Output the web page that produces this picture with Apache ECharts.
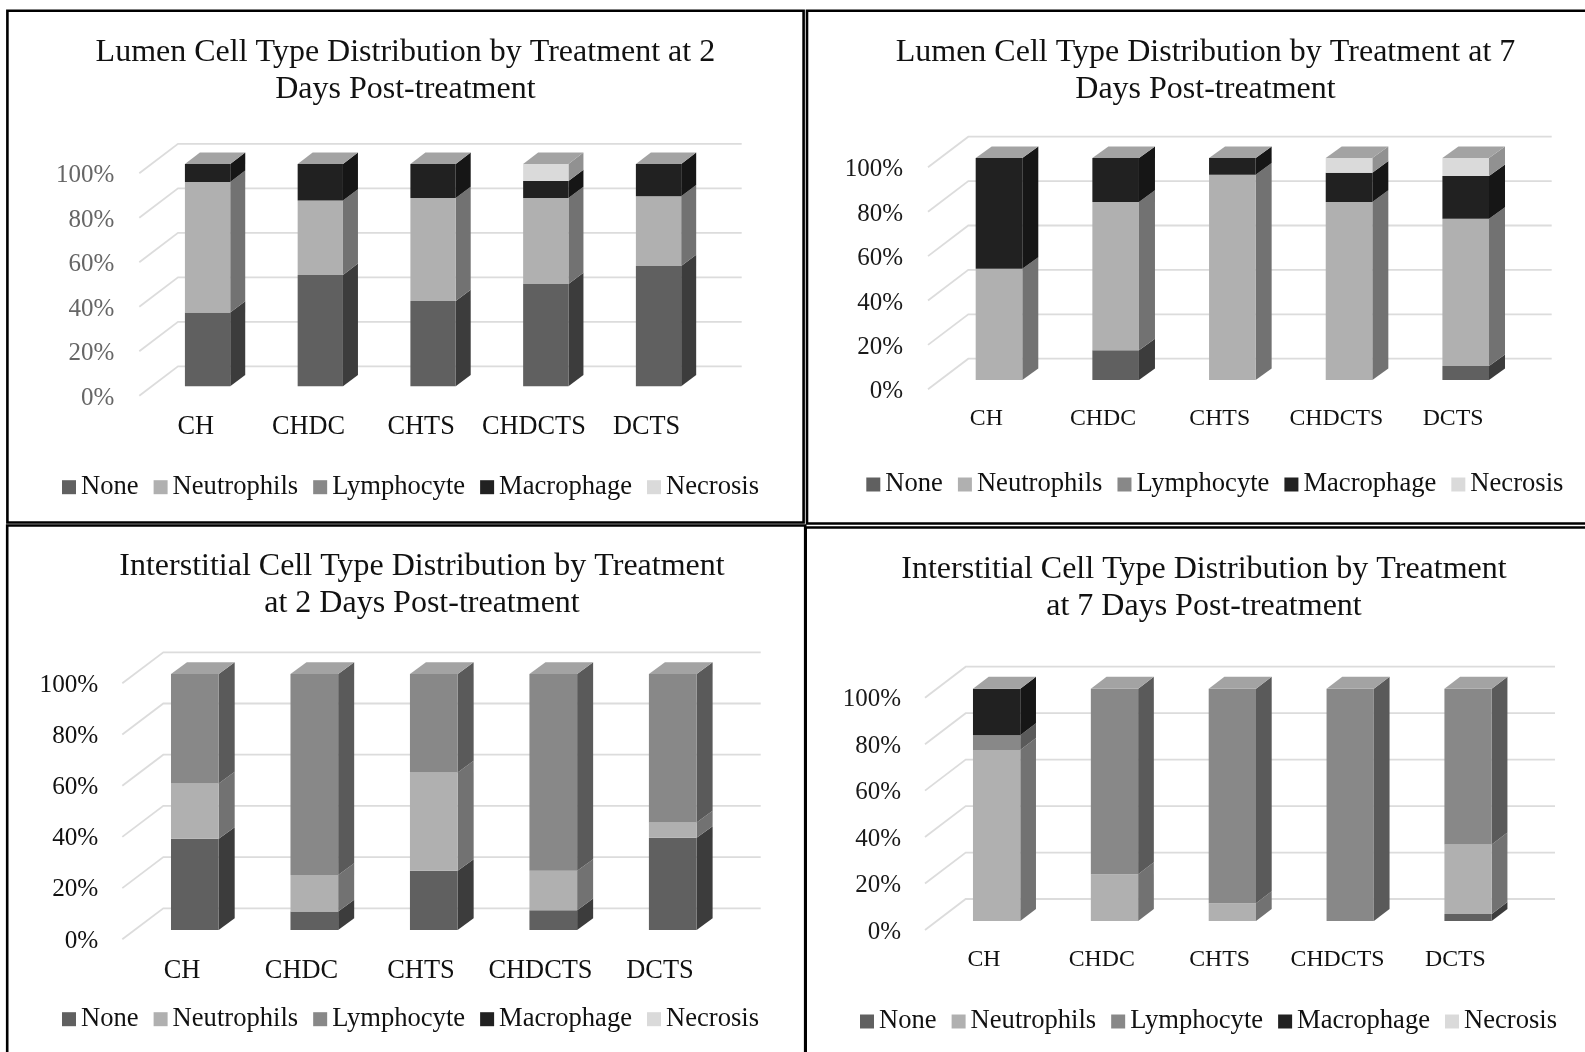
<!DOCTYPE html>
<html>
<head>
<meta charset="utf-8">
<style>html,body{margin:0;padding:0;background:#fff}#c{width:1585px;height:1052px}</style>
<script src="https://cdn.jsdelivr.net/npm/echarts@6/dist/echarts.min.js"></script>
</head>
<body>
<div id="c"></div>
<script>
// ---------- data ----------
const categories = ['CH', 'CHDC', 'CHTS', 'CHDCTS', 'DCTS'];
const seriesNames = ['None', 'Neutrophils', 'Lymphocyte', 'Macrophage', 'Necrosis'];
const yTicks = [0, 20, 40, 60, 80, 100];

const lumen2None       = [33.2, 50.1, 38.3, 46.0, 54.1];
const lumen2Neutro     = [58.7, 33.4, 46.4, 38.7, 31.3];
const lumen2Lympho     = [0, 0, 0, 0, 0];
const lumen2Macro      = [8.1, 16.5, 15.3, 7.6, 14.6];
const lumen2Necrosis   = [0, 0, 0, 7.7, 0];

const lumen7None       = [0, 13.4, 0, 0, 6.3];
const lumen7Neutro     = [50.1, 66.8, 92.5, 80.2, 66.3];
const lumen7Lympho     = [0, 0, 0, 0, 0];
const lumen7Macro      = [49.9, 19.8, 7.5, 13.2, 19.3];
const lumen7Necrosis   = [0, 0, 0, 6.6, 8.1];

const inter2None       = [35.6, 7.2, 23.1, 7.7, 36.0];
const inter2Neutro     = [21.6, 14.3, 38.4, 15.4, 6.0];
const inter2Lympho     = [42.8, 78.5, 38.5, 76.9, 58.0];
const inter2Macro      = [0, 0, 0, 0, 0];
const inter2Necrosis   = [0, 0, 0, 0, 0];

const inter7None       = [0, 0, 0, 0, 3.0];
const inter7Neutro     = [73.6, 20.1, 7.6, 0, 29.9];
const inter7Lympho     = [6.4, 79.9, 92.4, 100, 67.1];
const inter7Macro      = [20.0, 0, 0, 0, 0];
const inter7Necrosis   = [0, 0, 0, 0, 0];

// ---------- styles ----------
const frontColors = ['#606060', '#b0b0b0', '#888888', '#212121', '#dadada'];
const sideColors  = ['#3c3c3c', '#727272', '#5a5a5a', '#161616', '#919191'];
const topColor = '#a3a3a3';
const gridColor = '#dcdcdc';
const serif = '"Liberation Serif","Times New Roman",serif';

const panels = [
  { title: 'Lumen Cell Type Distribution by Treatment at 2\nDays Post-treatment', cx: 405.4, ty: 34.3,
    rows: [lumen2None, lumen2Neutro, lumen2Lympho, lumen2Macro, lumen2Necrosis],
    L: 139.3, R: 703, y0: 395.7, y100: 173.3, wall: [38.7, 29.4], barW: 45.3, depth: [15, 11.3], off: [11.9, 9.4],
    yColor: '#666666', yFont: 25, yShift: 4.6, xFont: 26.3, yMargin: 25, legendX: 62, legendY: 488.7, xMargin: 18 },
  { title: 'Lumen Cell Type Distribution by Treatment at 7\nDays Post-treatment', cx: 1205.5, ty: 34.3,
    rows: [lumen7None, lumen7Neutro, lumen7Lympho, lumen7Macro, lumen7Necrosis],
    L: 928, R: 1511.4, y0: 389.3, y100: 167.3, wall: [40.3, 30.6], barW: 46.6, depth: [16, 11.6], off: [12.65, 9.3],
    yColor: '#1a1a1a', yFont: 25, yShift: 5, xFont: 23.8, yMargin: 25, legendX: 866.3, legendY: 486, xMargin: 17 },
  { title: 'Interstitial Cell Type Distribution by Treatment\nat 2 Days Post-treatment', cx: 422, ty: 548.6,
    rows: [inter2None, inter2Neutro, inter2Lympho, inter2Macro, inter2Necrosis],
    L: 122.3, R: 719.7, y0: 939.3, y100: 683.3, wall: [41, 31], barW: 47.7, depth: [16, 11.7], off: [12.8, 9.3],
    yColor: '#111111', yFont: 25.2, yShift: 3.4, xFont: 26.4, yMargin: 24, legendX: 62, legendY: 1020.7, xMargin: 19 },
  { title: 'Interstitial Cell Type Distribution by Treatment\nat 7 Days Post-treatment', cx: 1204, ty: 551.3,
    rows: [inter7None, inter7Neutro, inter7Lympho, inter7Macro, inter7Necrosis],
    L: 925, R: 1514.3, y0: 930, y100: 697.7, wall: [40.7, 31], barW: 47.3, depth: [15.7, 12], off: [12.7, 9],
    yColor: '#1a1a1a', yFont: 25, yShift: 4.4, xFont: 23.8, yMargin: 24, legendX: 860, legendY: 1023, xMargin: 18 }
];

// ---------- build ----------
function poly(points, fill) {
  return { type: 'polygon', shape: { points }, style: { fill, stroke: null }, silent: true };
}

function wallRenderer(p) {
  return function (params, api) {
    const v = api.value(0);
    const cs = params.coordSys;
    const y = api.coord([0, v])[1];
    return {
      type: 'polyline', silent: true,
      shape: { points: [[cs.x, y], [cs.x + p.wall[0], y - p.wall[1]], [cs.x + cs.width + p.wall[0], y - p.wall[1]]] },
      style: { stroke: gridColor, lineWidth: 1.8, fill: null }
    };
  };
}

function barRenderer(p, s) {
  return function (params, api) {
    const c = api.value(0);
    const b = api.coord([c, api.value(1)]);
    const t = api.coord([c, api.value(2)]);
    const isTop = api.value(3) === 1;
    const x0 = b[0] + p.off[0] - p.barW / 2;
    const x1 = x0 + p.barW;
    const yb = b[1] - p.off[1];
    const yt = t[1] - p.off[1];
    const dx = p.depth[0], dy = p.depth[1];
    const children = [
      poly([[x1, yt], [x1 + dx, yt - dy], [x1 + dx, yb - dy], [x1, yb]], sideColors[s]),
      poly([[x0, yt], [x1, yt], [x1, yb], [x0, yb]], frontColors[s])
    ];
    if (isTop) children.push(poly([[x0, yt], [x0 + dx, yt - dy], [x1 + dx, yt - dy], [x1, yt]], topColor));
    return { type: 'group', children };
  };
}

const option = {
  animation: false, backgroundColor: '#fff', tooltip: { show: false },
  title: [], grid: [], xAxis: [], yAxis: [], legend: [], series: [],
  graphic: [
    { type: 'rect', shape: { x: 7.4, y: 10.7, width: 796.2, height: 511.8 }, style: { fill: null, stroke: '#000', lineWidth: 2.6 }, z: 50 },
    { type: 'rect', shape: { x: 807, y: 10.7, width: 800, height: 512.8 }, style: { fill: null, stroke: '#000', lineWidth: 2.6 }, z: 50 },
    { type: 'rect', shape: { x: 7.2, y: 525.5, width: 798, height: 560 }, style: { fill: null, stroke: '#000', lineWidth: 2.6 }, z: 50 },
    { type: 'rect', shape: { x: 805.7, y: 527.5, width: 800, height: 560 }, style: { fill: null, stroke: '#000', lineWidth: 2.6 }, z: 50 }
  ]
};

panels.forEach(function (p, i) {
  option.title.push({
    text: p.title, left: p.cx, top: p.ty, textAlign: 'center', padding: 0,
    textStyle: { fontFamily: serif, fontSize: 32, fontWeight: 'normal', color: '#111', lineHeight: 36.7 }
  });
  option.grid.push({ left: p.L, top: p.y100, width: p.R - p.L, height: p.y0 - p.y100, containLabel: false });
  option.xAxis.push({
    type: 'category', gridIndex: i, data: categories,
    axisLine: { show: false }, axisTick: { show: false }, splitLine: { show: false },
    axisLabel: { color: '#111', fontFamily: serif, fontSize: p.xFont, margin: p.xMargin, interval: 0 }
  });
  option.yAxis.push({
    type: 'value', gridIndex: i, min: 0, max: 100, interval: 20,
    axisLine: { show: false }, axisTick: { show: false }, splitLine: { show: false },
    axisLabel: { color: p.yColor, fontFamily: serif, fontSize: p.yFont, margin: p.yMargin, formatter: '{value}%',
      verticalAlign: 'top', lineHeight: p.yShift }
  });
  option.legend.push({
    left: p.legendX, top: p.legendY - 15, width: 760, itemWidth: 14, itemHeight: 14, itemGap: 15,
    icon: 'rect', data: seriesNames, selectedMode: false, orient: 'horizontal', padding: 0,
    textStyle: { fontFamily: serif, fontSize: 26.6, color: '#111' }
  });
  // back wall and side wall gridlines
  option.series.push({
    type: 'custom', name: 'gridlines', xAxisIndex: i, yAxisIndex: i, clip: false, silent: true, z: 1,
    renderItem: wallRenderer(p), encode: { y: 0 }, data: yTicks.map(function (v) { return [v]; })
  });
  // stacked blocks, one custom series per category type
  const totals = categories.map(function () { return 0; });
  const last = categories.map(function (_, c) {
    let top = -1;
    p.rows.forEach(function (row, s) { if (row[c] > 0) top = s; });
    return top;
  });
  p.rows.forEach(function (row, s) {
    const data = [];
    row.forEach(function (v, c) {
      if (v > 0) data.push([c, totals[c], totals[c] + v, last[c] === s ? 1 : 0]);
      totals[c] += v;
    });
    option.series.push({
      type: 'custom', name: seriesNames[s], xAxisIndex: i, yAxisIndex: i, clip: false, silent: true, z: 2,
      itemStyle: { color: frontColors[s] },
      renderItem: barRenderer(p, s), encode: { x: 0, y: [1, 2] }, data
    });
  });
});

const chart = echarts.init(document.getElementById('c'), null, { renderer: 'canvas' });
chart.setOption(option);
</script>
</body>
</html>
